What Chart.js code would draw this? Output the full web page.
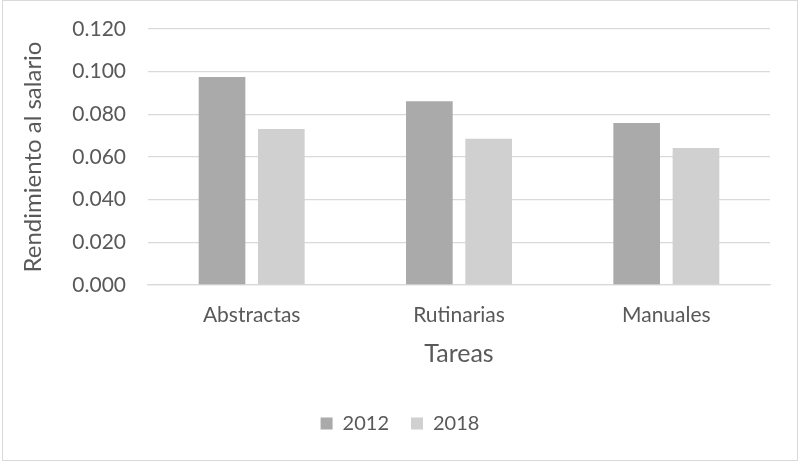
<!DOCTYPE html>
<html>
<head>
<meta charset="utf-8">
<script src="https://cdn.jsdelivr.net/npm/chart.js@4/dist/chart.umd.min.js"></script>
<style>
    body { margin: 0; background: #fff; }
    #box {
        position: absolute;
        left: 2px;
        top: 0;
        width: 794px;
        height: 459px;
        border: 1px solid #d9d9d9;
    }
</style>
</head>
<body>
<div id="box"><canvas id="chart" width="794" height="459"></canvas></div>
<script>
const categories = ['Abstractas', 'Rutinarias', 'Manuales'];
const values2012 = [0.0975, 0.0861, 0.0759];
const values2018 = [0.0731, 0.0686, 0.0642];
const seriesLabels = ['2012', '2018'];

const TEXT = '#595959';
const GRID = '#d9d9d9';
const FONT = 'Lato';

new Chart(document.getElementById('chart'), {
    type: 'bar',
    data: {
        labels: categories,
        datasets: [{
            label: seriesLabels[0],
            data: values2012,
            backgroundColor: '#aaaaaa',
            categoryPercentage: 0.572,
            barPercentage: 0.787
        }, {
            label: seriesLabels[1],
            data: values2018,
            backgroundColor: '#d0d0d0',
            categoryPercentage: 0.572,
            barPercentage: 0.787
        }]
    },
    options: {
        responsive: false,
        animation: false,
        layout: { padding: { left: 0, right: 0, top: 28, bottom: 16.5 } },
        plugins: {
            tooltip: { enabled: false },
            legend: {
                position: 'bottom',
                labels: {
                    color: TEXT,
                    font: { family: FONT, size: 20 },
                    boxWidth: 12,
                    boxHeight: 12,
                    padding: 22
                }
            }
        },
        scales: {
            x: {
                grid: { display: false },
                border: { display: true, color: GRID, width: 1.3 },
                ticks: {
                    color: TEXT,
                    font: { family: FONT, size: 21 },
                    padding: 10
                },
                title: {
                    display: true,
                    text: 'Tareas',
                    color: TEXT,
                    font: { family: FONT, size: 25 },
                    padding: { top: 0.8, bottom: 22.5 }
                }
            },
            y: {
                min: 0,
                max: 0.12,
                afterFit: (scale) => { scale.width = 145; },
                grid: { color: GRID, lineWidth: 1.3, drawTicks: false },
                border: { display: false },
                ticks: {
                    stepSize: 0.02,
                    color: TEXT,
                    font: { family: FONT, size: 21, lineHeight: 0.5 },
                    padding: 22,
                    callback: (v) => Number(v).toFixed(3)
                },
                title: {
                    display: true,
                    text: 'Rendimiento al salario',
                    color: TEXT,
                    font: { family: FONT, size: 24 },
                    padding: { top: 15.6, bottom: 0 }
                }
            },
            // empty right gutter, keeps the plot narrower than the legend row
            gutter: {
                position: 'right',
                afterFit: (scale) => { scale.width = 27; },
                grid: { display: false },
                border: { display: false },
                ticks: { display: false }
            }
        }
    }
});
</script>
</body>
</html>
